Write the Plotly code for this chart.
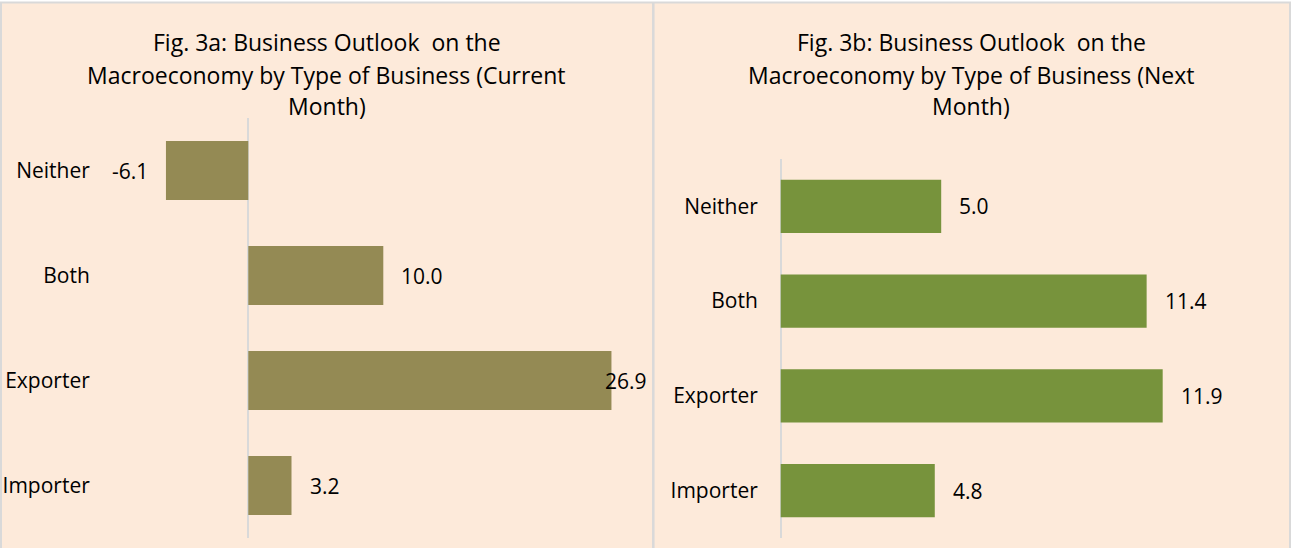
import plotly.graph_objects as go

# ---------------- data ----------------
categories = ["Neither", "Both", "Exporter", "Importer"]
current_month = [-6.1, 10.0, 26.9, 3.2]
next_month = [5.0, 11.4, 11.9, 4.8]
title_a = ["Fig. 3a: Business Outlook  on the",
           "Macroeconomy by Type of Business (Current",
           "Month)"]
title_b = ["Fig. 3b: Business Outlook  on the",
           "Macroeconomy by Type of Business (Next",
           "Month)"]

# ---------------- style / layout ----------------
W, H = 1291, 548
BG = "#FDEADA"
BORDER = "#D9D9D9"
FONT = dict(family="Open Sans, Liberation Sans, sans-serif", size=21, color="#000000")
TITLE_FONT = dict(family="Open Sans, Liberation Sans, sans-serif", size=23, color="#000000")
COLOR_A = "#948A54"
COLOR_B = "#77933C"


def px_x(x):
    return x / W


def px_y(y):
    return 1 - y / H


# panel geometry in pixels
panel_a = dict(left=100, right=645, top=118, bottom=538, zero=248.3, scale=13.5)
panel_b = dict(left=768, right=1275, top=159, bottom=538, zero=780.7, scale=32.1)


def x_range(p):
    return [(p["left"] - p["zero"]) / p["scale"], (p["right"] - p["zero"]) / p["scale"]]


fig = go.Figure()

fig.add_trace(go.Bar(
    x=current_month, y=categories, orientation="h",
    marker=dict(color=COLOR_A, line=dict(width=0)), width=0.56,
    xaxis="x", yaxis="y", hoverinfo="x+y", showlegend=False,
))
fig.add_trace(go.Bar(
    x=next_month, y=categories, orientation="h",
    marker=dict(color=COLOR_B, line=dict(width=0)), width=0.56,
    xaxis="x2", yaxis="y2", hoverinfo="x+y", showlegend=False,
))

axis_common_x = dict(showgrid=False, showticklabels=False, ticks="",
                     zeroline=True, zerolinecolor=BORDER, zerolinewidth=2,
                     showline=False, fixedrange=True)
axis_common_y = dict(showgrid=False, showline=False, zeroline=False,
                     autorange="reversed", ticks="outside", ticklen=5,
                     tickcolor="rgba(0,0,0,0)", tickfont=FONT, fixedrange=True)

fig.update_layout(
    width=W, height=H,
    margin=dict(l=0, r=0, t=0, b=0),
    paper_bgcolor="#FFFFFF",
    plot_bgcolor="rgba(0,0,0,0)",
    font=FONT,
    showlegend=False,
    xaxis=dict(domain=[px_x(panel_a["left"]), px_x(panel_a["right"])],
               range=x_range(panel_a), anchor="y", **axis_common_x),
    yaxis=dict(domain=[px_y(panel_a["bottom"]), px_y(panel_a["top"])],
               anchor="x", **axis_common_y),
    xaxis2=dict(domain=[px_x(panel_b["left"]), px_x(panel_b["right"])],
                range=x_range(panel_b), anchor="y2", **axis_common_x),
    yaxis2=dict(domain=[px_y(panel_b["bottom"]), px_y(panel_b["top"])],
                anchor="x2", **axis_common_y),
)

# background and borders
shapes = [
    dict(type="rect", xref="paper", yref="paper", layer="below",
         x0=px_x(1), x1=px_x(1290), y0=px_y(560), y1=px_y(2.5),
         fillcolor=BG, line=dict(color=BORDER, width=2)),
    dict(type="line", xref="paper", yref="paper", layer="below",
         x0=px_x(653.3), x1=px_x(653.3), y0=px_y(560), y1=px_y(2.5),
         line=dict(color=BORDER, width=2.5)),
]
fig.update_layout(shapes=shapes)

annotations = []

# titles (one annotation per line)
line_centers = [41.5, 74.5, 106]
for lines, cx in ((title_a, 326.5), (title_b, 971)):
    for txt, cy in zip(lines, line_centers):
        annotations.append(dict(text=txt, xref="paper", yref="paper",
                                x=px_x(cx), y=px_y(cy), xanchor="center", yanchor="middle",
                                showarrow=False, font=TITLE_FONT))

# data labels
GAP = 16
for vals, xr, yr, p in ((current_month, "x", "y", panel_a), (next_month, "x2", "y2", panel_b)):
    xmax = x_range(p)[1]
    for cat, v in zip(categories, vals):
        label = f"{v:.1f}"
        if v < 0:
            anchor, shift = "right", -GAP
        elif v > 0.9 * xmax:
            anchor, shift = "left", -8
        else:
            anchor, shift = "left", GAP
        annotations.append(dict(text=label, x=v, y=cat, xref=xr, yref=yr,
                                xanchor=anchor, yanchor="middle", xshift=shift,
                                showarrow=False, font=FONT))

fig.update_layout(annotations=annotations)

fig.write_html("out.html", config={"displayModeBar": False},
               post_script="document.body.style.margin='0';")
